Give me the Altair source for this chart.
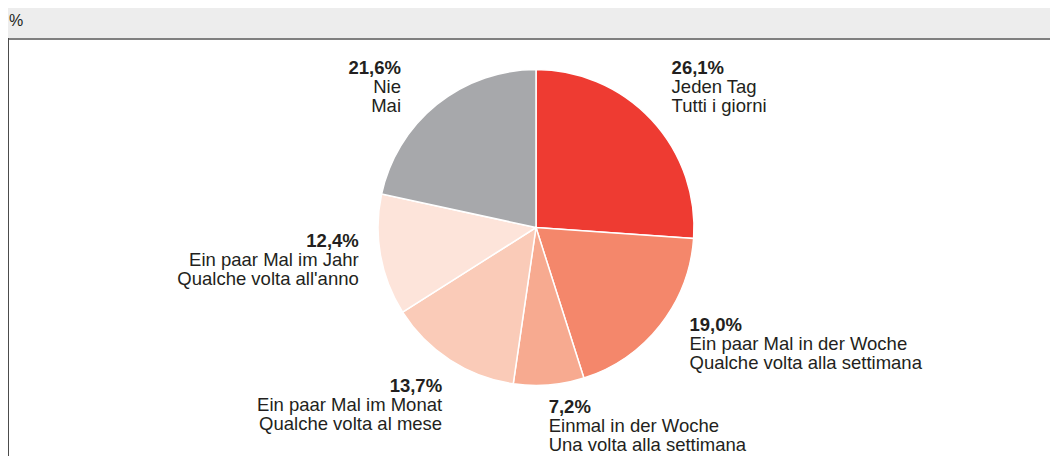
import altair as alt
import pandas as pd

# ---- data ----
german = ["Jeden Tag", "Ein paar Mal in der Woche", "Einmal in der Woche",
          "Ein paar Mal im Monat", "Ein paar Mal im Jahr", "Nie"]
italian = ["Tutti i giorni", "Qualche volta alla settimana", "Una volta alla settimana",
           "Qualche volta al mese", "Qualche volta all'anno", "Mai"]
values = [26.1, 19.0, 7.2, 13.7, 12.4, 21.6]
pct_labels = ["26,1%", "19,0%", "7,2%", "13,7%", "12,4%", "21,6%"]
colors = ["#ee3b32", "#f4876b", "#f7aa90", "#facbb8", "#fde4da", "#a7a8ab"]
unit_label = ["%"]

df = pd.DataFrame({
    "idx": list(range(len(values))),
    "de": german,
    "it": italian,
    "value": values,
    "pct": pct_labels,
})

FONT = "Liberation Sans"
TXT = "#231f20"
W, H = 1042, 418
CX, CY = 528, 189.5
R_PIE, R_LAB = 158, 180
LH = 19
FS = 18.5

# label nudges (align, dx, dy) per slice
nudges = [("left", 4, -31), ("left", 12, -8), ("left", -2, 6),
          ("right", 4, 13), ("right", 0, -12), ("right", -22, -13)]

base = alt.Chart(df).encode(
    theta=alt.Theta("value:Q", stack=True),
    order=alt.Order("idx:Q"),
    x=alt.value(CX),
    y=alt.value(CY),
)

arcs = base.mark_arc(radius=R_PIE, stroke="white", strokeWidth=1.5).encode(
    color=alt.Color("de:N", scale=alt.Scale(domain=german, range=colors), legend=None)
)

layers = [arcs]
for i, (align, dx, dy) in enumerate(nudges):
    bold = base.transform_calculate(
        lab=f"datum.idx == {i} ? datum.pct : ''"
    ).mark_text(radius=R_LAB, align=align, baseline="alphabetic", dx=dx, dy=dy,
                font=FONT, fontSize=FS, fontWeight="bold", color=TXT).encode(
        text="lab:N")
    normal = base.transform_calculate(
        lab=f"datum.idx == {i} ? [datum.de, datum.it] : ''"
    ).mark_text(radius=R_LAB, align=align, baseline="alphabetic", dx=dx, dy=dy + LH,
                lineHeight=LH, font=FONT, fontSize=FS, color=TXT).encode(
        text="lab:N")
    layers += [bold, normal]

top_border = alt.Chart(df).mark_rule(color="#808080", strokeWidth=2).encode(
    x=alt.value(0), x2=alt.value(W), y=alt.value(1))
left_border = alt.Chart(df).mark_rule(color="#4d4d4d", strokeWidth=1.5).encode(
    x=alt.value(0), y=alt.value(0), y2=alt.value(H))
unit = alt.Chart(pd.DataFrame({"u": unit_label})).mark_text(
    align="left", baseline="alphabetic", font=FONT, fontSize=16, color=TXT
).encode(text="u:N", x=alt.value(1), y=alt.value(-12))
layers += [top_border, left_border, unit]

chart = alt.layer(*layers).properties(
    width=W, height=H,
    background="#ededed",
    padding={"left": 0, "top": 30, "right": 0, "bottom": 0},
    autosize=alt.AutoSizeParams(type="none"),
).configure_view(fill="white", stroke=None)

chart.save("out.html", embed_options={"renderer": "svg", "actions": False})
